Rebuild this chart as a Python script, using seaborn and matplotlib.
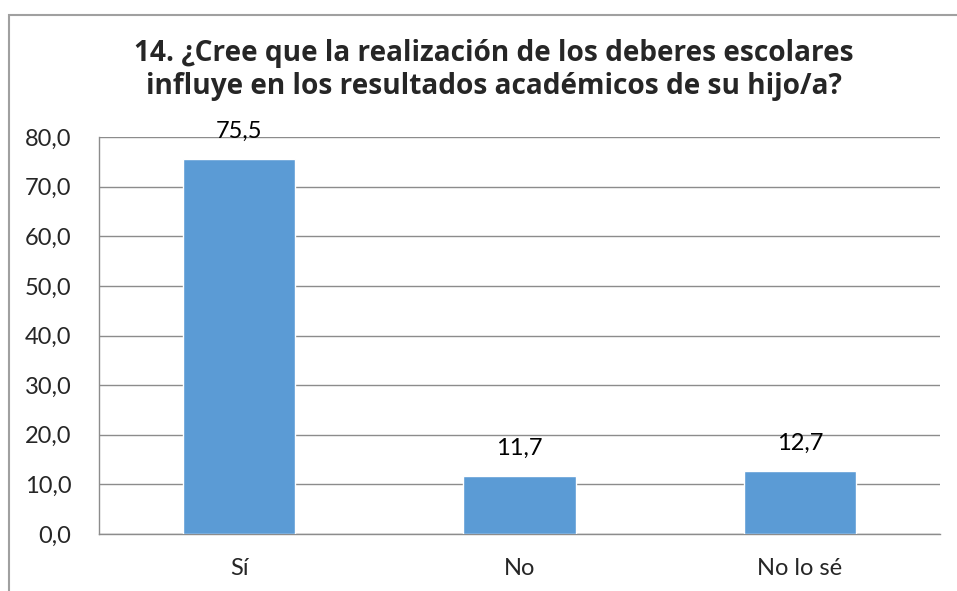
import matplotlib
matplotlib.use("Agg")
import matplotlib.pyplot as plt
from matplotlib.patches import Rectangle
import seaborn as sns
import pandas as pd

# Survey answers and percentages
categories = ["Sí", "No", "No lo sé"]
values = [75.5, 11.7, 12.7]
y_ticks = [0, 10, 20, 30, 40, 50, 60, 70, 80]
title = "14. ¿Cree que la realización de los deberes escolares\ninfluye en los resultados académicos de su hijo/a?"

sns.set_theme(style="white")
plt.rcParams["font.family"] = ["Lato", "DejaVu Sans"]

df = pd.DataFrame({"respuesta": categories, "porcentaje": values})

fig = plt.figure(figsize=(9.57, 5.91), dpi=100)
ax = fig.add_axes([0.1034, 0.0964, 0.8788, 0.6718])

grey = "#8c8c8c"
sns.barplot(data=df, x="respuesta", y="porcentaje", color="#5B9BD5",
            saturation=1, width=0.4, ax=ax, zorder=3)

ax.set_ylim(0, 80)
ax.set_xlim(-0.5, len(categories) - 0.5)
ax.set_yticks(y_ticks)
ax.set_yticklabels([f"{v:.1f}".replace(".", ",") for v in y_ticks], fontsize=17)
ax.set_xlabel("")
ax.set_ylabel("")
ax.tick_params(axis="x", which="major", length=0, pad=17, labelsize=17)
ax.set_xticks([i - 0.5 for i in range(len(categories) + 1)], minor=True)
ax.tick_params(axis="x", which="minor", length=8, color=grey, width=1)
ax.tick_params(axis="y", length=8, color=grey, width=1, pad=12)
ax.yaxis.grid(True, color=grey, linewidth=1, zorder=0)
ax.set_axisbelow(True)

for side in ["top", "right"]:
    ax.spines[side].set_visible(False)
for side in ["left", "bottom"]:
    ax.spines[side].set_color(grey)
    ax.spines[side].set_linewidth(1)

# Value labels above each bar
for i, v in enumerate(values):
    ax.annotate(f"{v:.1f}".replace(".", ","), (i, v), xytext=(0, 20),
                textcoords="offset points", ha="center", va="center",
                fontsize=17, color="black")

fig.text(0.516, 0.882, title, ha="center", va="center", fontsize=20.2,
         fontweight="bold", linespacing=1.2, family=["Open Sans", "DejaVu Sans"])

# Chart frame
fig.patches.append(Rectangle((9 / 957, -0.1), 1.2, 1 - 14.5 / 591 + 0.1,
                             transform=fig.transFigure, fill=False,
                             edgecolor="#a0a0a0", linewidth=1.5))

fig.savefig("out.png", dpi=100)
